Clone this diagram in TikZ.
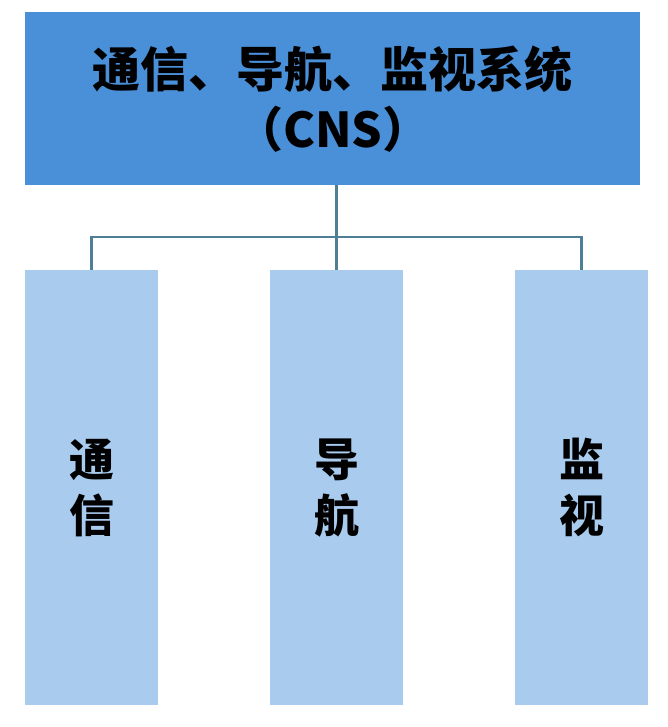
\documentclass[tikz,border=0pt]{standalone}
\usepackage{fontspec}
\newfontfamily\cjk{Noto Sans CJK SC}
\definecolor{topb}{HTML}{4A90D9}
\definecolor{subb}{HTML}{A9CBEE}
\definecolor{lnc}{HTML}{4F7F95}
\begin{document}
\begin{tikzpicture}[x=1pt,y=-1pt,
  topbox/.style={fill=topb,draw=none,minimum width=615pt,minimum height=173pt,anchor=north west,align=center,font=\cjk\bfseries\fontsize{48}{60}\selectfont},
  subbox/.style={fill=subb,draw=none,minimum width=133pt,minimum height=435pt,anchor=north west,align=center,font=\cjk\bfseries\fontsize{45}{56}\selectfont},
  conn/.style={draw=lnc,line width=2.5pt}]
\useasboundingbox (0,0) rectangle (667,727);
\node[topbox] (top) at (25,12) {通信、导航、监视系统\\（CNS）};
\node[subbox] (a) at (25,270) {通\\信};
\node[subbox] (b) at (270,270) {导\\航};
\node[subbox] (c) at (515,270) {监\\视};
\coordinate (j) at (b.north |- 0,237);
\draw[conn] (j |- top.south) -- (j);
\draw[conn] (a.north) -- ++(0,-33) -| (c.north);
\draw[conn] (j) -- (b.north);
\end{tikzpicture}
\end{document}
